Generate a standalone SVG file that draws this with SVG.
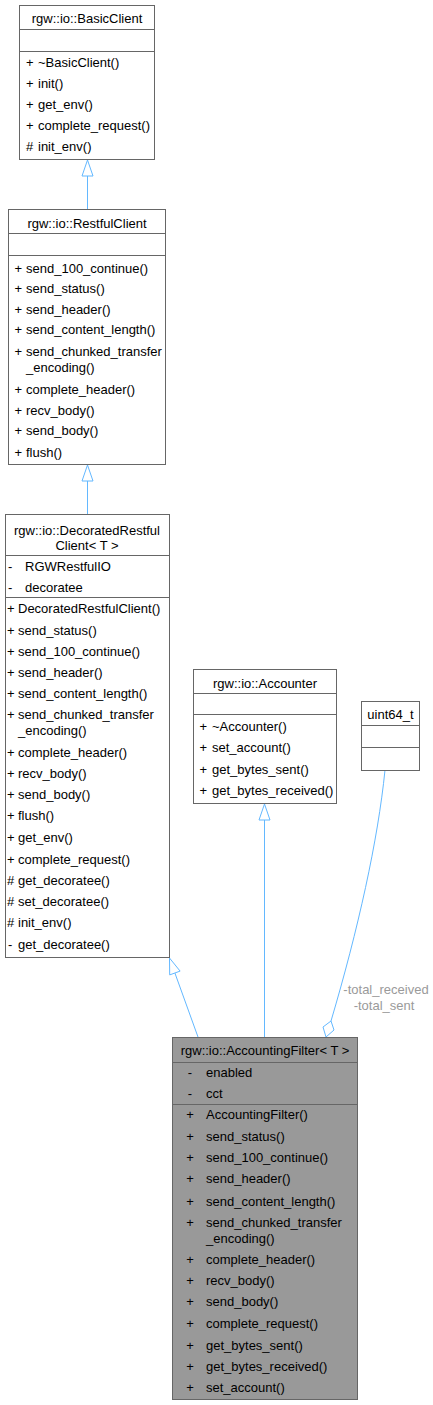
<svg xmlns="http://www.w3.org/2000/svg" width="433" height="1405" viewBox="0 0 433 1405">
<style>
text{font-family:"Liberation Sans",Arial,sans-serif;font-size:13px;fill:#000}
.box{fill:#fff;stroke:#666;stroke-width:1}
.focus{fill:#999;stroke:#666;stroke-width:1}
.sep{stroke:#666;stroke-width:1}
.c{text-anchor:middle}
.edge{fill:none;stroke:#63b8ff;stroke-width:1}
.head{fill:#fff;stroke:#63b8ff;stroke-width:1}
.lbl{fill:#9a9a9a;text-anchor:middle}
</style>
<rect width="433" height="1405" fill="#fff"/>
<g id="connectors">
<line class="edge" x1="87.5" y1="209" x2="87.5" y2="176"/>
<polygon class="head" points="87.5,160 82,176 93,176"/>
<line class="edge" x1="87.5" y1="514" x2="87.5" y2="481"/>
<polygon class="head" points="87.5,465 82,481 93,481"/>
<line class="edge" x1="198" y1="1037" x2="174.9" y2="973"/>
<polygon class="head" points="169.5,958 180.1,971.1 169.7,974.9"/>
<line class="edge" x1="264.5" y1="1037" x2="264.5" y2="820"/>
<polygon class="head" points="264.5,804 259,820 270,820"/>
<path class="edge" d="M385,770 C378,840 358,930 331,1021"/>
<polygon class="head" points="331,1021 334,1030 326,1037 323,1027"/>
<text class="lbl" x="386" y="993.5">-total_received</text>
<text class="lbl" x="384" y="1009.5">-total_sent</text>
</g>
<g id="BasicClient">
<rect class="box" x="19.5" y="5.5" width="135" height="154"/>
<line class="sep" x1="19.5" y1="29.5" x2="154.5" y2="29.5"/>
<line class="sep" x1="19.5" y1="51.5" x2="154.5" y2="51.5"/>
<text class="c" x="87" y="22.5">rgw::io::BasicClient</text>
<text x="26" y="66.5">+</text><text x="38" y="66.5">~BasicClient()</text>
<text x="26" y="87.5">+</text><text x="38" y="87.5">init()</text>
<text x="26" y="109">+</text><text x="38" y="109">get_env()</text>
<text x="26" y="130">+</text><text x="38" y="130">complete_request()</text>
<text x="26" y="151">#</text><text x="38" y="151">init_env()</text>
</g>
<g id="RestfulClient">
<rect class="box" x="8.5" y="209.5" width="157" height="255"/>
<line class="sep" x1="8.5" y1="233.5" x2="165.5" y2="233.5"/>
<line class="sep" x1="8.5" y1="255.5" x2="165.5" y2="255.5"/>
<text class="c" x="87" y="227.5">rgw::io::RestfulClient</text>
<text x="14.5" y="272.5">+</text><text x="26" y="272.5">send_100_continue()</text>
<text x="14.5" y="292.5">+</text><text x="26" y="292.5">send_status()</text>
<text x="14.5" y="313.5">+</text><text x="26" y="313.5">send_header()</text>
<text x="14.5" y="333.5">+</text><text x="26" y="333.5">send_content_length()</text>
<text x="14.5" y="355.5">+</text><text x="26" y="355.5">send_chunked_transfer</text>
<text x="26" y="371.5">_encoding()</text>
<text x="14.5" y="393.5">+</text><text x="26" y="393.5">complete_header()</text>
<text x="14.5" y="414.5">+</text><text x="26" y="414.5">recv_body()</text>
<text x="14.5" y="434.5">+</text><text x="26" y="434.5">send_body()</text>
<text x="14.5" y="456.5">+</text><text x="26" y="456.5">flush()</text>
</g>
<g id="DecoratedRestfulClient">
<rect class="box" x="5.5" y="514.5" width="164" height="443"/>
<line class="sep" x1="5.5" y1="555.5" x2="169.5" y2="555.5"/>
<line class="sep" x1="5.5" y1="597.5" x2="169.5" y2="597.5"/>
<text class="c" x="87" y="534.5">rgw::io::DecoratedRestful</text>
<text class="c" x="87" y="549.5">Client&lt; T &gt;</text>
<text x="8" y="571">-</text><text x="25" y="571">RGWRestfulIO</text>
<text x="8" y="591.5">-</text><text x="25" y="591.5">decoratee</text>
<text x="7" y="612.5">+</text><text x="18" y="612.5">DecoratedRestfulClient()</text>
<text x="7" y="634.5">+</text><text x="18" y="634.5">send_status()</text>
<text x="7" y="655.5">+</text><text x="18" y="655.5">send_100_continue()</text>
<text x="7" y="676.5">+</text><text x="18" y="676.5">send_header()</text>
<text x="7" y="698">+</text><text x="18" y="698">send_content_length()</text>
<text x="7" y="719">+</text><text x="18" y="719">send_chunked_transfer</text>
<text x="18" y="735">_encoding()</text>
<text x="7" y="756.5">+</text><text x="18" y="756.5">complete_header()</text>
<text x="7" y="777.5">+</text><text x="18" y="777.5">recv_body()</text>
<text x="7" y="798.5">+</text><text x="18" y="798.5">send_body()</text>
<text x="7" y="820">+</text><text x="18" y="820">flush()</text>
<text x="7" y="842">+</text><text x="18" y="842">get_env()</text>
<text x="7" y="863.5">+</text><text x="18" y="863.5">complete_request()</text>
<text x="7" y="885">#</text><text x="18" y="885">get_decoratee()</text>
<text x="7" y="905.5">#</text><text x="18" y="905.5">set_decoratee()</text>
<text x="7" y="927">#</text><text x="18" y="927">init_env()</text>
<text x="8" y="948.5">-</text><text x="18" y="948.5">get_decoratee()</text>
</g>
<g id="Accounter">
<rect class="box" x="193.5" y="669.5" width="143" height="134"/>
<line class="sep" x1="193.5" y1="693.5" x2="336.5" y2="693.5"/>
<line class="sep" x1="193.5" y1="714.5" x2="336.5" y2="714.5"/>
<text class="c" x="265" y="687.5">rgw::io::Accounter</text>
<text x="199.5" y="730.5">+</text><text x="212" y="730.5">~Accounter()</text>
<text x="199.5" y="751.5">+</text><text x="212" y="751.5">set_account()</text>
<text x="199.5" y="773.5">+</text><text x="212" y="773.5">get_bytes_sent()</text>
<text x="199.5" y="794.5">+</text><text x="212" y="794.5">get_bytes_received()</text>
</g>
<g id="uint64_t">
<rect class="box" x="361.5" y="701.5" width="58" height="69"/>
<line class="sep" x1="361.5" y1="725.5" x2="419.5" y2="725.5"/>
<line class="sep" x1="361.5" y1="747.5" x2="419.5" y2="747.5"/>
<text class="c" x="390.5" y="718.5">uint64_t</text>
</g>
<g id="AccountingFilter">
<rect class="focus" x="172.5" y="1037.5" width="185" height="362"/>
<line class="sep" x1="172.5" y1="1062.5" x2="357.5" y2="1062.5"/>
<line class="sep" x1="172.5" y1="1104.5" x2="357.5" y2="1104.5"/>
<text class="c" x="265" y="1054.5">rgw::io::AccountingFilter&lt; T &gt;</text>
<text class="c" x="190" y="1076.5">-</text><text x="206" y="1076.5">enabled</text>
<text class="c" x="190" y="1097.5">-</text><text x="206" y="1097.5">cct</text>
<text class="c" x="190" y="1118.5">+</text><text x="206" y="1118.5">AccountingFilter()</text>
<text class="c" x="190" y="1140.5">+</text><text x="206" y="1140.5">send_status()</text>
<text class="c" x="190" y="1161.5">+</text><text x="206" y="1161.5">send_100_continue()</text>
<text class="c" x="190" y="1182.5">+</text><text x="206" y="1182.5">send_header()</text>
<text class="c" x="190" y="1205.5">+</text><text x="206" y="1205.5">send_content_length()</text>
<text class="c" x="190" y="1226.5">+</text><text x="206" y="1226.5">send_chunked_transfer</text>
<text x="206" y="1242.5">_encoding()</text>
<text class="c" x="190" y="1263.5">+</text><text x="206" y="1263.5">complete_header()</text>
<text class="c" x="190" y="1284.5">+</text><text x="206" y="1284.5">recv_body()</text>
<text class="c" x="190" y="1305.5">+</text><text x="206" y="1305.5">send_body()</text>
<text class="c" x="190" y="1327.5">+</text><text x="206" y="1327.5">complete_request()</text>
<text class="c" x="190" y="1349.5">+</text><text x="206" y="1349.5">get_bytes_sent()</text>
<text class="c" x="190" y="1370.5">+</text><text x="206" y="1370.5">get_bytes_received()</text>
<text class="c" x="190" y="1391.5">+</text><text x="206" y="1391.5">set_account()</text>
</g>
</svg>
